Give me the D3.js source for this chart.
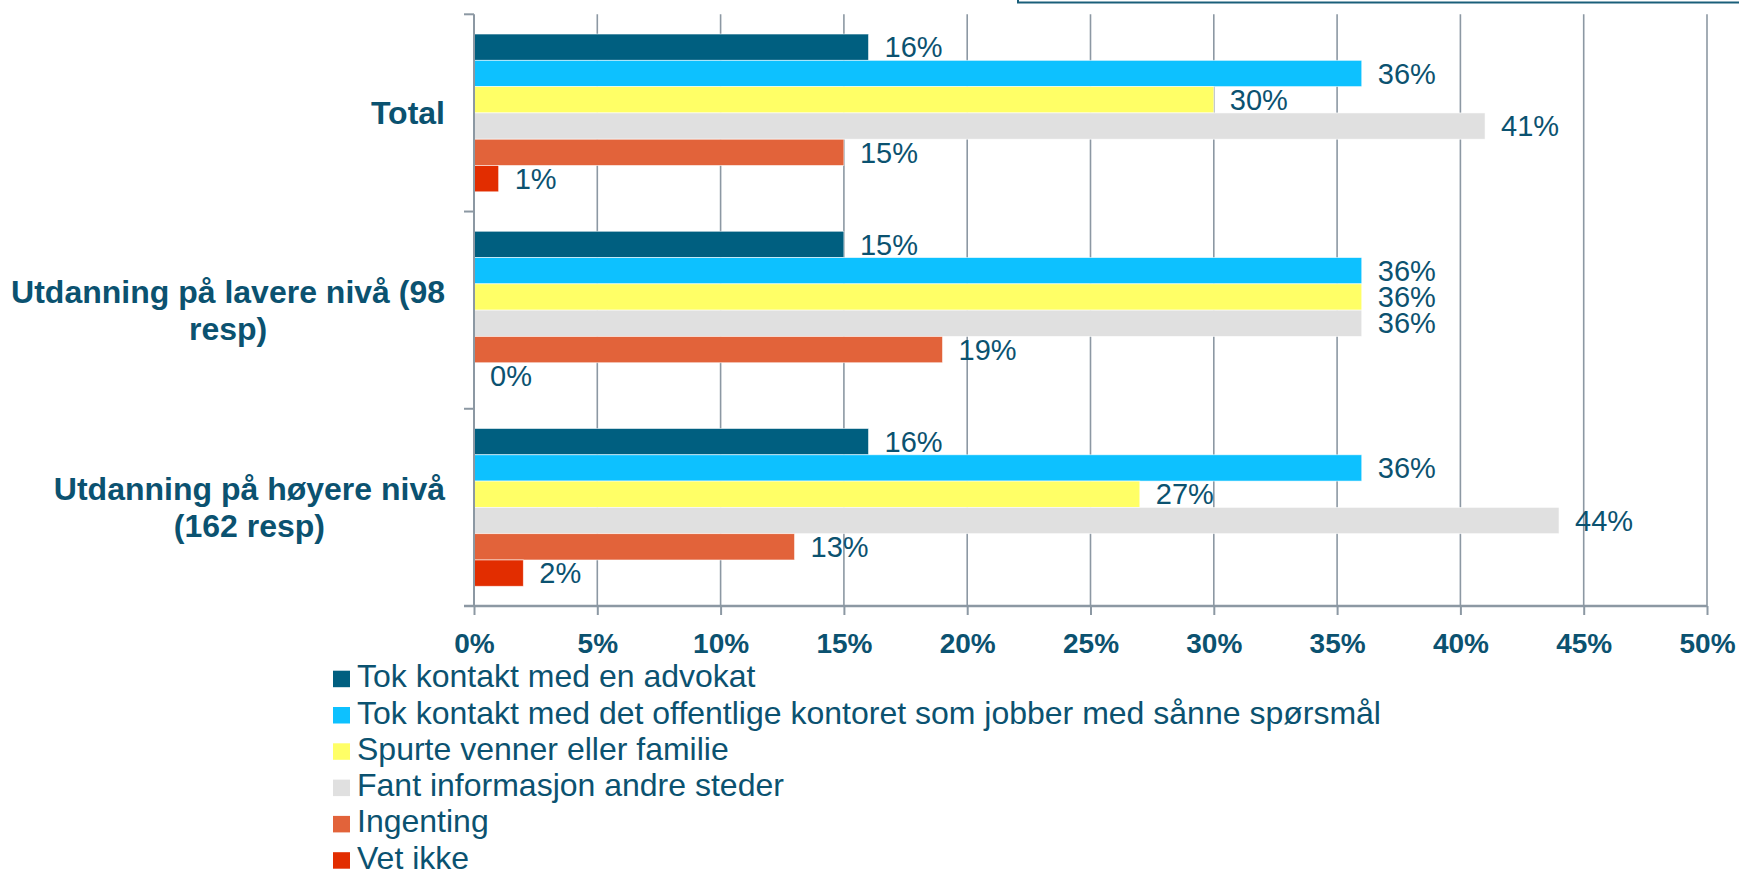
<!DOCTYPE html>
<html>
<head>
<meta charset="utf-8">
<script src="https://cdn.jsdelivr.net/npm/d3@7"></script>
<style>
  html, body { margin: 0; padding: 0; background: #fff; }
  svg { display: block; font-family: "Liberation Sans", Arial, sans-serif; }
</style>
</head>
<body>
<div id="chart"></div>
<script>
// categories (top to bottom) and how their labels wrap
const categories = ["Total", "Utdanning på lavere nivå (98 resp)", "Utdanning på høyere nivå (162 resp)"];
const categoryLines = [
    ["Total"],
    ["Utdanning på lavere nivå (98", "resp)"],
    ["Utdanning på høyere nivå", "(162 resp)"]
];

// series, in legend order
const seriesNames = [
    "Tok kontakt med en advokat",
    "Tok kontakt med det offentlige kontoret som jobber med sånne spørsmål",
    "Spurte venner eller familie",
    "Fant informasjon andre steder",
    "Ingenting",
    "Vet ikke"
];
const seriesColors = ["#005f80", "#0dc1ff", "#ffff66", "#e0e0e0", "#e2633a", "#e22d00"];

// values in %, one per category
const tokAdvokat   = [16, 15, 16];
const tokOffentlig = [36, 36, 36];
const spurteVenner = [30, 36, 27];
const fantAndre    = [41, 36, 44];
const ingenting    = [15, 19, 13];
const vetIkke      = [1, 0, 2];

const xTicks = [0, 5, 10, 15, 20, 25, 30, 35, 40, 45, 50];

const seriesValues = [tokAdvokat, tokOffentlig, spurteVenner, fantAndre, ingenting, vetIkke];

const W = 1739, H = 870;
const textColor = "#0b5270";
const gridColor = "#8c98a3";
const plotLeft = 474, plotRight = 1707, plotTop = 14.3, plotBottom = 606;

const svg = d3.select("#chart").append("svg")
    .attr("width", W).attr("height", H);

// title box peeking in at the top
svg.append("rect")
    .attr("x", 1018).attr("y", -40)
    .attr("width", 760).attr("height", 42.5)
    .attr("fill", "none")
    .attr("stroke", "#1a5f7a")
    .attr("stroke-width", 2);

const x = d3.scaleLinear().domain([0, 50]).range([plotLeft, plotRight]);
const y0 = d3.scaleBand().domain(categories).range([plotTop, plotBottom]);
const y1 = d3.scaleBand().domain(d3.range(seriesNames.length))
    .range([0, y0.bandwidth()]).paddingInner(0).paddingOuter(0.75);

// gridlines
svg.append("g").selectAll("line")
    .data(xTicks.slice(1))
    .join("line")
    .attr("x1", d => x(d)).attr("x2", d => x(d))
    .attr("y1", plotTop).attr("y2", plotBottom)
    .attr("stroke", gridColor).attr("stroke-width", 1.6);

// bars
const rows = [];
categories.forEach((c, ci) => {
    seriesValues.forEach((vals, si) => {
        rows.push({ cat: c, s: si, v: vals[ci] });
    });
});

svg.append("g").selectAll("rect")
    .data(rows)
    .join("rect")
    .attr("x", x(0))
    .attr("y", d => y0(d.cat) + y1(d.s))
    .attr("width", d => x(d.v) - x(0))
    .attr("height", y1.bandwidth())
    .attr("fill", d => seriesColors[d.s])
    .attr("stroke", "rgba(255,255,255,0.7)")
    .attr("stroke-width", 0.8);

// value labels
svg.append("g").selectAll("text")
    .data(rows)
    .join("text")
    .attr("x", d => x(d.v) + 16)
    .attr("y", d => y0(d.cat) + y1(d.s) + y1.bandwidth() / 2)
    .attr("dy", "0.35em")
    .attr("fill", textColor)
    .style("font-size", "29px")
    .text(d => d.v + "%");

// y axis: line + ticks at band boundaries
const yAxis = svg.append("g");
yAxis.append("line")
    .attr("x1", plotLeft).attr("x2", plotLeft)
    .attr("y1", plotTop).attr("y2", plotBottom)
    .attr("stroke", gridColor).attr("stroke-width", 2);
yAxis.selectAll(".bt")
    .data(categories.map(c => y0(c)).concat([y0.range()[1]]))
    .join("line")
    .attr("class", "bt")
    .attr("x1", plotLeft - 10).attr("x2", plotLeft)
    .attr("y1", d => d).attr("y2", d => d)
    .attr("stroke", gridColor).attr("stroke-width", 2);

// x axis
const xAxis = svg.append("g")
    .attr("transform", `translate(0,${plotBottom})`)
    .call(d3.axisBottom(x).tickValues(xTicks).tickFormat(d => d + "%").tickSize(9).tickSizeOuter(0));
xAxis.select(".domain").attr("stroke", gridColor).attr("stroke-width", 2.5)
    .attr("d", `M${plotLeft - 10},0H${plotRight}`);
xAxis.selectAll(".tick line").attr("stroke", gridColor).attr("stroke-width", 2);
xAxis.selectAll(".tick text")
    .attr("y", 27)
    .attr("dy", "0.71em")
    .attr("fill", textColor)
    .style("font-size", "28px")
    .style("font-weight", "bold")
    .style("font-family", "'Liberation Sans', Arial, sans-serif");

// category labels, right aligned block, lines centred within it
const labelRight = 445;
const lineGap = 37;
categories.forEach((c, ci) => {
    const lines = categoryLines[ci];
    const cy = y0(c) + y0.bandwidth() / 2;
    const g = svg.append("g");
    const texts = g.selectAll("text")
        .data(lines)
        .join("text")
        .attr("y", (d, i) => cy + (i - (lines.length - 1) / 2) * lineGap)
        .attr("dy", "0.35em")
        .attr("text-anchor", "middle")
        .attr("fill", textColor)
        .style("font-size", "32px")
        .style("font-weight", "bold")
        .text(d => d);
    let w = 0;
    texts.each(function() { w = Math.max(w, this.getComputedTextLength()); });
    texts.attr("x", labelRight - w / 2);
});

// legend
const legend = svg.append("g").attr("transform", "translate(333,670.7)");
const item = legend.selectAll("g")
    .data(seriesNames)
    .join("g")
    .attr("transform", (d, i) => `translate(0,${i * 36.3})`);
item.append("rect")
    .attr("width", 17).attr("height", 16.5)
    .attr("fill", (d, i) => seriesColors[i]);
item.append("text")
    .attr("x", 24).attr("y", 16.5)
    .attr("fill", textColor)
    .style("font-size", "32px")
    .text(d => d);
</script>
</body>
</html>
